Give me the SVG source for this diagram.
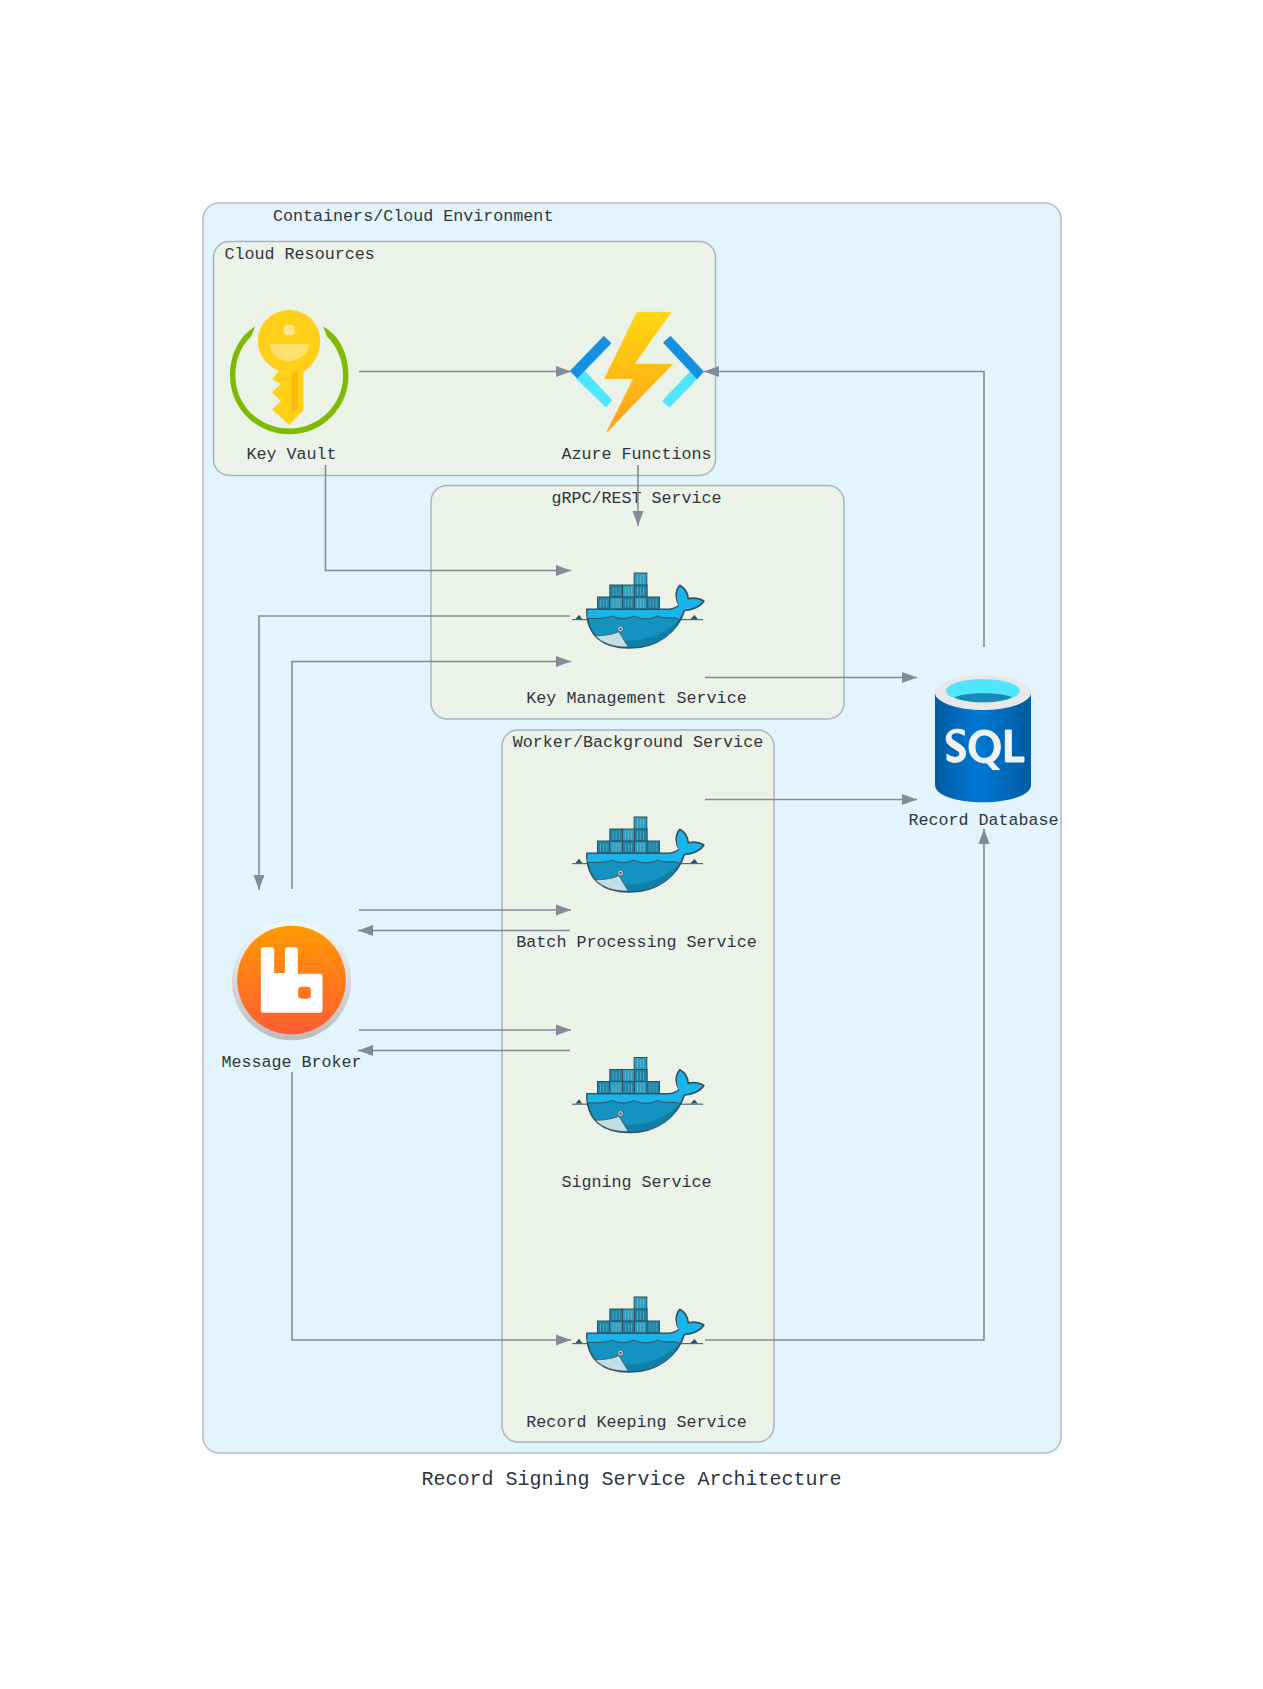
<svg xmlns="http://www.w3.org/2000/svg" xmlns:xlink="http://www.w3.org/1999/xlink" width="1263" height="1689" viewBox="0 0 1263 1689">
<style>
text{font-family:"Liberation Mono","Courier New",monospace;font-size:16.7px;fill:#2f363d}
.mid{text-anchor:middle}
.outer{fill:#e3f4fc;stroke:#aebccb;stroke-width:1.5}
.inner{fill:#ebf2e7;stroke:#a9b4c0;stroke-width:1.5}
.c{fill:none;stroke:#828c98;stroke-width:1.6;marker-end:url(#arr)}
.k1{fill:#1f84a5;stroke:#33505c;stroke-width:3}
.k2{fill:#2f9fbe;stroke:#33505c;stroke-width:3}
.st{stroke:#9fd2e0;stroke-width:1.2;fill:none}
</style>
<defs>
<marker id="arr" markerUnits="userSpaceOnUse" markerWidth="16" markerHeight="12" refX="15" refY="6" orient="auto"><path d="M0 .5L15 6L0 11.5z" fill="#828c98"/></marker>
<linearGradient id="bolt" x1="0" y1="0" x2="0" y2="1"><stop offset="0" stop-color="#ffd70f"/><stop offset="1" stop-color="#fea11b"/></linearGradient>
<linearGradient id="sql" x1="0" y1="0" x2="1" y2="0"><stop offset="0" stop-color="#005ba1"/><stop offset=".45" stop-color="#0078d4"/><stop offset="1" stop-color="#005ba1"/></linearGradient>
<linearGradient id="rab" x1="0" y1="0" x2="0" y2="1"><stop offset="0" stop-color="#ff9a00"/><stop offset="1" stop-color="#ff5c35"/></linearGradient>
<linearGradient id="rim" x1="0" y1="0" x2="0" y2="1"><stop offset="0" stop-color="#f6f7f8"/><stop offset="1" stop-color="#bcbcbc"/></linearGradient>
<g id="docker" transform="scale(.3333)">
<g>
<rect class="k1" x="171" y="141" width="37" height="37"/><rect class="k2" x="208" y="141" width="38" height="37"/><rect class="k1" x="246" y="141" width="36" height="37"/><rect class="k2" x="282" y="141" width="38" height="37"/><rect class="k1" x="320" y="141" width="37" height="37"/>
<rect class="k1" x="208" y="105" width="38" height="36"/><rect class="k2" x="246" y="105" width="36" height="36"/><rect class="k1" x="282" y="105" width="38" height="36"/>
<rect class="k2" x="281" y="69" width="38" height="36"/>
<path class="st" d="M180 148v24M189 148v24M198 148v24M218 148v24M227 148v24M236 148v24M255 148v24M264 148v24M273 148v24M291 148v24M300 148v24M309 148v24M329 148v24M338 148v24M347 148v24M218 112v24M227 112v24M236 112v24M255 112v24M264 112v24M273 112v24M291 112v24M300 112v24M309 112v24M291 76v24M300 76v24M309 76v24"/>
</g>
<path d="M95 209H488" stroke="#33505c" stroke-width="3" fill="none"/>
<path d="M105 207L116 194L125 207zM450 207L462 195L472 207z" fill="#33505c"/>
<path d="M139 178H385C400 176 410 172 416 165C406 150 402 125 418 106C432 114 442 128 443 146C458 142 478 145 490 153C480 170 455 180 432 181C412 245 350 295 265 294C190 293 138 260 139 178z" fill="#1592c0" stroke="#33505c" stroke-width="5" stroke-linejoin="round"/>
<path d="M141 180H385C400 178 410 174 416 167C408 150 405 128 419 110C431 118 440 132 441 150C456 146 474 148 486 154C476 168 452 177 430 179L418 205C390 198 375 210 350 198C330 210 300 208 280 198C260 208 235 208 215 198C190 208 165 205 141 205z" fill="#18b4ea"/>
<path d="M416 207C395 262 340 292 268 292L250 270C320 275 380 250 416 207z" fill="#0f7ea8"/>
<path d="M141 205C165 205 190 208 215 198C235 208 260 208 280 198C300 208 330 210 350 198C375 210 395 198 416 207" fill="none" stroke="#33505c" stroke-width="3"/>
<path d="M164 257C190 258 222 252 235 245L263 291C220 292 185 280 164 257z" fill="#c3dde2" stroke="#33505c" stroke-width="2"/>
<circle cx="240" cy="237" r="8" fill="#dbe8ea" stroke="#33505c" stroke-width="2"/><circle cx="240" cy="237" r="3.5" fill="#33505c"/>
</g>
</defs>
<rect width="1263" height="1689" fill="#fff"/>
<g id="cluster-env"><rect class="outer" x="203" y="203" width="858" height="1250" rx="16"/><text x="273" y="221">Containers/Cloud Environment</text></g>
<g id="cluster-cloud"><rect class="inner" x="213.500" y="241.500" width="502" height="234" rx="16"/><text x="224.500" y="259">Cloud Resources</text></g>
<g id="cluster-grpc"><rect class="inner" x="431" y="485.500" width="413" height="233.500" rx="16"/><text class="mid" x="636.500" y="503">gRPC/REST Service</text></g>
<g id="cluster-worker"><rect class="inner" x="502" y="730" width="272" height="712" rx="16"/><text class="mid" x="638" y="747">Worker/Background Service</text></g>
<g id="node-keyvault">
<g transform="translate(230 310) scale(.3366)">
<path d="M75 49L63 78C30 110 16 150 16 195C16 280 85 352 176 352C265 352 336 280 336 195C336 150 318 108 288 78L277 49C325 75 352 130 352 195C352 290 275 369 176 369C78 369 0 290 0 195C0 130 30 75 75 49z" fill="#7fba00"/>
<path d="M176 0C228 0 268 41 268 92C268 135 245 168 218 183V298L176 342L125 295L151 270L125 245L151 220L125 205L146 181C110 165 83 135 83 92C83 41 125 0 176 0z" fill="#ffd017"/>
<rect x="160" y="44" width="32" height="31" rx="12" fill="#ffe98f"/>
<path d="M117 102H235C230 132 205 152 176 152C147 152 122 132 117 102z" fill="#ffe070"/>
<path d="M183 187L201 181V290L183 306z" fill="#ffb80f"/>
</g>
<text class="mid" x="291.500" y="459">Key Vault</text>
</g>
<g id="node-functions">
<g transform="translate(565.500 305) scale(.3333)">
<path d="M58 200L137 285L122 305L34 220z" fill="#50e6ff" stroke="#50e6ff" stroke-width="4" stroke-linejoin="round"/>
<path d="M115 95L135 115L35 218L16 198z" fill="#1490df" stroke="#1490df" stroke-width="4" stroke-linejoin="round"/>
<path d="M375 200L395 220L312 305L293 288z" fill="#50e6ff" stroke="#50e6ff" stroke-width="4" stroke-linejoin="round"/>
<path d="M315 95L295 113L395 220L413 200z" fill="#1490df" stroke="#1490df" stroke-width="4" stroke-linejoin="round"/>
<path d="M215 22H316L205 178H320L125 380L205 220H118z" fill="url(#bolt)" stroke="url(#bolt)" stroke-width="3" stroke-linejoin="round"/>
</g>
<text class="mid" x="636.500" y="459">Azure Functions</text>
</g>
<g id="node-keymgmt"><use xlink:href="#docker" href="#docker" transform="translate(540.500 550)"/><text class="mid" x="636.500" y="703">Key Management Service</text></g>
<g id="node-batch"><use xlink:href="#docker" href="#docker" transform="translate(540.500 794)"/><text class="mid" x="636.500" y="947">Batch Processing Service</text></g>
<g id="node-signing"><use xlink:href="#docker" href="#docker" transform="translate(540.500 1034.500)"/><text class="mid" x="636.500" y="1187">Signing Service</text></g>
<g id="node-records"><use xlink:href="#docker" href="#docker" transform="translate(540.500 1274)"/><text class="mid" x="636.500" y="1427">Record Keeping Service</text></g>
<g id="node-database">
<g transform="translate(901 650) scale(.3333)">
<path d="M102 128V405C102 435 165 457 246 457C327 457 390 435 390 405V128z" fill="url(#sql)"/>
<ellipse cx="246" cy="128" rx="144" ry="52" fill="#e8e8e8"/>
<ellipse cx="246" cy="122" rx="111" ry="35" fill="#50e6ff"/>
<path d="M160 142C180 134 210 130 246 130C285 130 315 134 333 142C315 152 285 157 246 157C210 157 180 152 160 142z" fill="#198ab3"/>
<g fill="#f2f2f2" stroke="#f2f2f2" stroke-width="3">
<path d="M190 256C178 248 165 246 158 250C149 254 148 264 156 270L180 286C198 298 198 322 182 332C168 340 150 338 138 330V312C150 322 164 324 171 320C178 316 178 308 171 303L148 288C130 276 132 252 150 242C164 235 180 237 190 242z"/>
<path fill-rule="evenodd" d="M250 240C278 240 298 260 298 290C298 312 288 328 274 335L296 359H275L258 339C225 340 204 320 204 290C204 260 222 240 250 240zM250 255C233 255 222 270 222 290C222 310 233 325 250 325C268 325 280 310 280 290C280 270 268 255 250 255z"/>
<path d="M313 240H331V321H369V336H313z"/>
</g>
</g>
<text class="mid" x="983.500" y="825">Record Database</text>
</g>
<g id="node-broker">
<g transform="translate(210.500 890) scale(.3333)">
<circle cx="243" cy="272" r="179" fill="url(#rim)"/>
<circle cx="243" cy="270" r="163" fill="url(#rab)"/>
<path fill-rule="evenodd" d="M151 180Q151 172 159 172H183Q191 172 191 180V249H223V180Q223 172 231 172H255Q262 172 262 180V251H329Q336 251 336 258V361Q336 368 329 368H159Q151 368 151 361zM263 300Q263 290 273 290H291Q301 290 301 300V316Q301 326 291 326H273Q263 326 263 316z" fill="#fff"/>
</g>
<text class="mid" x="291.500" y="1067">Message Broker</text>
</g>
<g id="connectors">
<path class="c" d="M359 371.500H571"/>
<path class="c" d="M984 647V371.500H704"/>
<path class="c" d="M638 465V526"/>
<path class="c" d="M325.500 465V570.500H571"/>
<path class="c" d="M570 616H259V890"/>
<path class="c" d="M292 889V661.500H571"/>
<path class="c" d="M705 677.500H917"/>
<path class="c" d="M705 799.500H917"/>
<path class="c" d="M359 910H571"/>
<path class="c" d="M570 930.500H358"/>
<path class="c" d="M359 1030H571"/>
<path class="c" d="M570 1050.500H358"/>
<path class="c" d="M292 1072V1340H571"/>
<path class="c" d="M705 1340H984V829"/>
</g>
<text class="mid" x="631.500" y="1485" style="font-size:20px">Record Signing Service Architecture</text>
</svg>
